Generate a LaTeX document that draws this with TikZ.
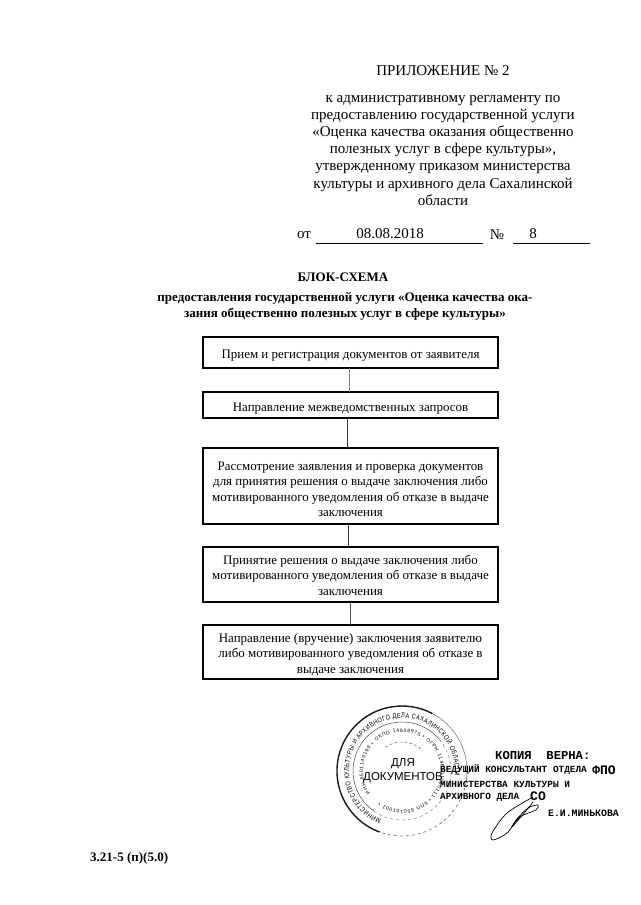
\documentclass[tikz,border=0pt]{standalone}
\usepackage{fontspec}
\setmainfont{Liberation Serif}
\newfontfamily\stampfont{Liberation Sans}
\newfontfamily\ringfont[FakeStretch=0.8]{Liberation Sans}
\newfontfamily\typefont{Liberation Mono}
\usetikzlibrary{positioning,decorations.text}
\newcommand{\toprule}[1]{\rule{0pt}{#1pt}}

\begin{document}
\begin{tikzpicture}[
  x=1pt,y=1pt,
  hdr/.style={align=center,font=\fontsize{15}{17.1}\selectfont,inner sep=0pt},
  ttl/.style={align=center,font=\fontsize{13}{16}\selectfont\bfseries,inner sep=0pt},
  blk/.style={draw,line width=1.8pt,outer sep=0pt,inner sep=0pt,minimum width=295pt,
              align=center,font=\fontsize{12.95}{15.6}\selectfont},
  conn/.style={line width=1pt,black!80},
  stamptext/.style={decorate,decoration={text along path,text align=fit to path,text={#1}}},
  ink/.style={line width=0.7pt,smooth},
  typed/.style={anchor=west,inner sep=0pt,font=\typefont\bfseries\fontsize{9.4}{10}\selectfont}
]
\useasboundingbox (0,0) rectangle (640,-905);
\fill[white] (0,0) rectangle (640,-905);

% header
\node[hdr] (appx) at (443,-71) {ПРИЛОЖЕНИЕ № 2};
\node[hdr,below=19pt of appx] (reg) {к административному регламенту по\\
  предоставлению государственной услуги\\
  «Оценка качества оказания общественно\\
  полезных услуг в сфере культуры»,\\
  утвержденному приказом министерства\\
  культуры и архивного дела Сахалинской\\
  области};

\node[hdr] (from) at (304,-235) {от};
\node[hdr] (date) at (390,-234) {08.08.2018};
\node[hdr] (numsign) at (497,-235) {№};
\node[hdr] (num) at (533,-234) {8};
\coordinate (dateL) at (316,-243);
\coordinate (dateR) at (483,-243);
\coordinate (numL) at (513,-243);
\coordinate (numR) at (590,-243);
\draw[line width=0.5pt] (dateL) -- (dateR);
\draw[line width=0.5pt] (numL) -- (numR);

% title
\node[ttl] (title) at (343,-277) {БЛОК-СХЕМА};
\node[ttl,below=11pt of title,xshift=2pt] (subtitle) {предоставления государственной услуги «Оценка качества ока-\\
  зания общественно полезных услуг в сфере культуры»};

% blocks
\node[blk,minimum height=31pt] (recv) at (350.5,-352.5) {\toprule{14}Прием и регистрация документов от заявителя};
\node[blk,minimum height=26pt,below=24pt of recv] (req) {\toprule{15}Направление межведомственных запросов};
\node[blk,minimum height=76pt,below=30pt of req] (check) {\toprule{15}Рассмотрение заявления и проверка документов\\
  для принятия решения о выдаче заключения либо\\
  мотивированного уведомления об отказе в выдаче\\
  заключения};
\node[blk,minimum height=55pt,below=23pt of check] (decide) {\toprule{11}Принятие решения о выдаче заключения либо\\
  мотивированного уведомления об отказе в выдаче\\
  заключения};
\node[blk,minimum height=54pt,below=23pt of decide] (send) {\toprule{14}Направление (вручение) заключения заявителю\\
  либо мотивированного уведомления об отказе в\\
  выдаче заключения};

\draw[conn,black!50] ([xshift=-1.5pt]recv.south) -- ([xshift=-1.5pt]req.north);
\draw[conn] ([xshift=-3pt]req.south) -- ([xshift=-3pt]check.north);
\draw[conn] ([xshift=-2pt]check.south) -- ([xshift=-2pt]decide.north);
\draw[conn,black!70] (decide.south) -- (send.north);

% stamp
\coordinate (stampc) at (402,-771);
\draw[line width=1.4pt,black!90] ([shift={(250:65pt)}]stampc) arc[start angle=250,end angle=62,radius=65pt];
\draw[line width=0.5pt,black!60] ([shift={(62:65pt)}]stampc) arc[start angle=62,end angle=-10,radius=65pt];
\draw[line width=0.6pt,black!60,dashed] ([shift={(-10:65pt)}]stampc) arc[start angle=-10,end angle=-110,radius=65pt];
\draw[line width=0.5pt,black!70] ([shift={(235:49pt)}]stampc) arc[start angle=235,end angle=40,radius=49pt];
\draw[line width=0.5pt,black!50,dashed] ([shift={(40:49pt)}]stampc) arc[start angle=40,end angle=-125,radius=49pt];
\draw[line width=0.5pt,black!60,densely dashed] ([shift={(125:29pt)}]stampc) arc[start angle=125,end angle=45,radius=29pt];
\path[stamptext={|\ringfont\fontsize{7}{8}\selectfont|МИНИСТЕРСТВО КУЛЬТУРЫ И АРХИВНОГО ДЕЛА САХАЛИНСКОЙ ОБЛАСТИ}]
  ([shift={(247:53pt)}]stampc) arc[start angle=247,end angle=-5,radius=53pt];
\path[stamptext={|\stampfont\fontsize{5}{6}\selectfont|ИНН 6501140169 • ОКПО 14608975 • ОГРН 1146501000111 • КПП 650101001 •}]
  ([shift={(215:39pt)}]stampc) arc[start angle=215,end angle=-125,radius=39pt];
\node[font=\stampfont\fontsize{11.5}{13.5}\selectfont,align=center,inner sep=0pt] (seal) at (403,-770.5) {ДЛЯ\\ДОКУМЕНТОВ};

% certification
\node[typed,font=\typefont\bfseries\fontsize{12.2}{13}\selectfont] (copy) at (495,-755) {КОПИЯ\ \ ВЕРНА:};
\node[typed] (lineA) at (440,-770) {ВЕДУЩИЙ КОНСУЛЬТАНТ ОТДЕЛА};
\node[typed,font=\typefont\bfseries\fontsize{13}{14}\selectfont,right=5pt of lineA] (fpo) {ФПО};
\node[typed] (lineB) at (440,-784) {МИНИСТЕРСТВА КУЛЬТУРЫ И};
\node[typed] (lineC) at (440,-797) {АРХИВНОГО ДЕЛА};
\node[typed,font=\typefont\bfseries\fontsize{13}{14}\selectfont] (so) at (530,-796) {СО};
\node[typed,font=\typefont\bfseries\fontsize{9.8}{11}\selectfont] (signer) at (548,-813) {Е.И.МИНЬКОВА};

% signature
\draw[ink] plot coordinates {(533,-797) (507,-813) (492,-833) (493,-840) (507,-833) (520,-817) (536,-810) (538,-805) (528,-808) (516,-820) (510,-830)};
\draw[ink] plot coordinates {(513,-826) (525,-812) (533,-802)};

\node[font=\fontsize{13}{14}\selectfont\bfseries,anchor=west,inner sep=0pt] (formno) at (90,-858) {3.21-5 (п)(5.0)};
\end{tikzpicture}
\end{document}
